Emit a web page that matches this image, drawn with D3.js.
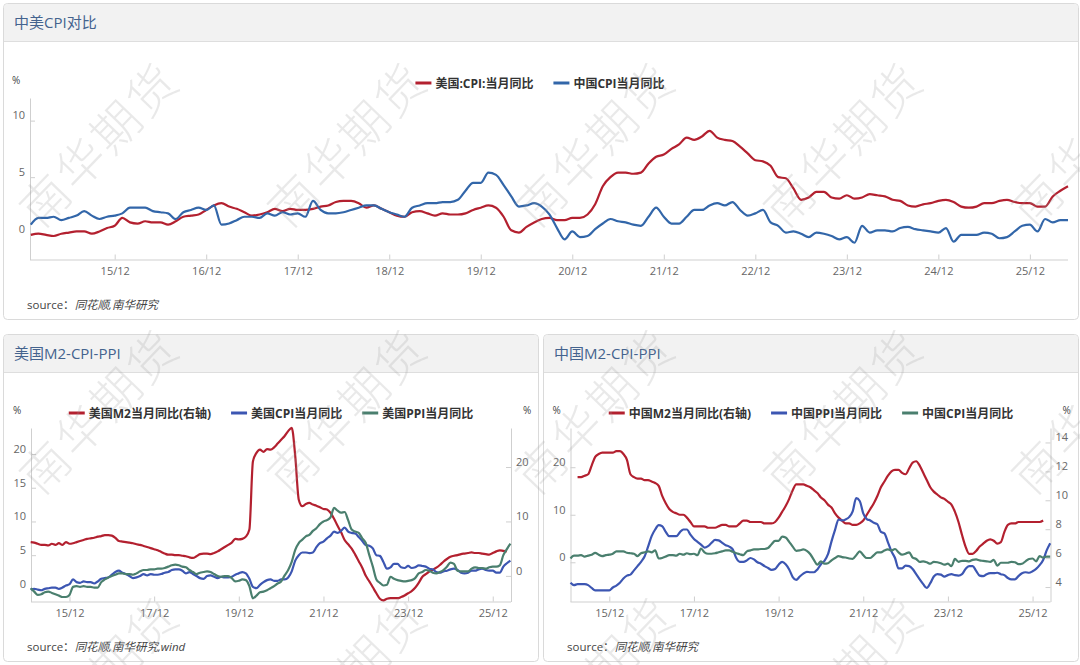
<!DOCTYPE html>
<html>
<head>
<meta charset="utf-8">
<script src="https://cdn.jsdelivr.net/npm/d3@7"></script>
<style>
  body { margin: 0; background: #fff; }
  svg { font-family: "Open Sans", "Noto Sans CJK SC", sans-serif; }
</style>
</head>
<body>
<svg id="chart" width="1080" height="665"></svg>
<script>
// monthly data, Jan 2015 .. May 2026 (137 months)
var startYear = 2015;
var monthCount = 137;

var topTicks = ["15/12", "16/12", "17/12", "18/12", "19/12", "20/12", "21/12", "22/12", "23/12", "24/12", "25/12"];
var bottomTicks = ["15/12", "17/12", "19/12", "21/12", "23/12", "25/12"];

var usCpi = [
  -0.1, 0.0, -0.1, -0.2, 0.0, 0.1, 0.2, 0.2, 0.0, 0.2, 0.5, 0.7,
  1.4, 1.0, 0.9, 1.1, 1.0, 1.0, 0.8, 1.1, 1.5, 1.6, 1.7, 2.1,
  2.5, 2.7, 2.4, 2.2, 1.9, 1.6, 1.7, 1.9, 2.2, 2.0, 2.2, 2.1,
  2.1, 2.2, 2.4, 2.5, 2.8, 2.9, 2.9, 2.7, 2.3, 2.5, 2.2, 1.9,
  1.6, 1.5, 1.9, 2.0, 1.8, 1.6, 1.8, 1.7, 1.7, 1.8, 2.1, 2.3,
  2.5, 2.3, 1.5, 0.3, 0.1, 0.6, 1.0, 1.3, 1.4, 1.2, 1.2, 1.4,
  1.4, 1.7, 2.6, 4.2, 5.0, 5.4, 5.4, 5.3, 5.4, 6.2, 6.8, 7.0,
  7.5, 7.9, 8.5, 8.3, 8.6, 9.1, 8.5, 8.3, 8.2, 7.7, 7.1, 6.5,
  6.4, 6.0, 5.0, 4.9, 4.0, 3.0, 3.2, 3.7, 3.7, 3.2, 3.1, 3.4,
  3.1, 3.2, 3.5, 3.4, 3.3, 3.0, 2.9, 2.5, 2.4, 2.6, 2.7, 2.9,
  3.0, 2.8, 2.4, 2.3, 2.4, 2.7, 2.7, 2.9, 3.0, 2.8, 2.7, 2.7,
  2.4, 2.4, 3.3, 3.8, 4.2
];

var cnCpi = [
  0.8, 1.4, 1.4, 1.5, 1.2, 1.4, 1.6, 2.0, 1.6, 1.3, 1.5, 1.6,
  1.8, 2.3, 2.3, 2.3, 2.0, 1.9, 1.8, 1.3, 1.9, 2.1, 2.3, 2.1,
  2.5, 0.8, 0.9, 1.2, 1.5, 1.5, 1.4, 1.8, 1.6, 1.9, 1.7, 1.8,
  1.5, 2.9, 2.1, 1.8, 1.8, 1.9, 2.1, 2.3, 2.5, 2.5, 2.2, 1.9,
  1.7, 1.5, 2.3, 2.5, 2.7, 2.7, 2.8, 2.8, 3.0, 3.8, 4.5, 4.5,
  5.4, 5.2, 4.3, 3.3, 2.4, 2.5, 2.7, 2.4, 1.7, 0.5, -0.5, 0.2,
  -0.3, -0.2, 0.4, 0.9, 1.3, 1.1, 1.0, 0.8, 0.7, 1.5, 2.3, 1.5,
  0.9, 0.9, 1.5, 2.1, 2.1, 2.5, 2.7, 2.5, 2.8, 2.1, 1.6, 1.8,
  2.1, 1.0, 0.7, 0.1, 0.2, 0.0, -0.3, 0.1, 0.0, -0.2, -0.5, -0.3,
  -0.8, 0.7, 0.1, 0.3, 0.3, 0.2, 0.5, 0.6, 0.4, 0.3, 0.2, 0.1,
  0.5, -0.7, -0.1, -0.1, -0.1, 0.1, 0.0, -0.4, -0.3, 0.2, 0.7, 0.8,
  0.2, 1.3, 1.0, 1.2, 1.2
];

var usM2 = [
  6.2, 6.1, 5.9, 5.7, 5.7, 5.6, 5.9, 5.7, 6.0, 5.7, 6.2, 5.9,
  6.0, 6.2, 6.4, 6.6, 6.8, 6.9, 7.0, 7.2, 7.3, 7.5, 7.5, 7.4,
  7.0, 6.4, 6.3, 6.2, 6.1, 6.0, 5.8, 5.7, 5.5, 5.3, 5.1, 4.9,
  4.7, 4.4, 4.1, 3.9, 3.9, 3.8, 3.8, 3.7, 3.6, 3.4, 3.3, 3.6,
  4.0, 4.1, 4.1, 4.0, 4.2, 4.5, 4.9, 5.3, 5.7, 6.1, 6.8, 6.7,
  6.8, 7.2, 8.5, 21.0, 22.6, 23.2, 22.8, 23.3, 23.2, 23.6, 24.3, 25.0,
  25.7, 26.6, 27.2, 22.0, 14.0, 12.8, 13.2, 13.4, 13.1, 12.9, 12.6, 12.3,
  12.2, 11.6, 10.5, 9.2, 8.0, 6.6, 5.8, 5.0, 3.9, 2.7, 1.5, 0.0,
  -1.0, -2.1, -3.2, -4.2, -4.5, -4.2, -4.1, -4.1, -4.1, -3.9, -3.6, -3.2,
  -2.8, -2.2, -1.3, -0.2, 0.3, 0.8, 1.1, 1.5, 2.0, 2.6, 3.1, 3.5,
  3.7, 3.8, 4.0, 4.1, 4.2, 4.3, 4.2, 4.2, 4.1, 4.0, 3.9, 4.2,
  4.5, 4.7, 4.6, 4.5, null
];

var usPpi = [
  0.1, -0.4, -0.9, -0.8, -0.5, -0.4, -0.6, -0.8, -1.0, -1.2, -1.2, -0.9,
  0.3, 0.4, 0.3, 0.4, 0.3, 0.3, 0.2, 0.2, 1.0, 1.4, 1.7, 1.9,
  2.1, 2.3, 2.3, 2.2, 2.2, 2.1, 2.3, 2.6, 2.8, 2.8, 2.9, 2.9,
  3.0, 3.0, 3.1, 3.3, 3.5, 3.6, 3.5, 3.3, 3.2, 2.8, 2.5, 2.2,
  2.4, 2.5, 2.6, 2.5, 2.2, 1.9, 1.8, 1.9, 1.9, 1.6, 1.1, 1.2,
  1.4, 1.3, 0.4, -1.4, -1.0, -0.5, -0.4, -0.2, 0.1, 0.4, 0.8, 1.1,
  2.0, 2.8, 4.0, 5.8, 6.8, 7.3, 7.8, 8.0, 8.6, 9.0, 9.6, 10.0,
  10.2, 10.6, 12.0, 11.6, 11.3, 11.4, 10.2, 8.8, 8.5, 8.3, 7.5, 6.8,
  5.0, 3.3, 1.4, 0.9, 0.5, 0.6, 1.8, 1.5, 1.3, 1.2, 1.1, 1.2,
  1.3, 1.6, 2.3, 2.5, 2.8, 2.7, 2.4, 2.3, 2.5, 2.8, 3.3, 3.9,
  3.7, 2.7, 2.6, 2.6, 2.6, 3.0, 3.2, 3.1, 3.1, 3.0, 3.2, 3.3,
  3.3, 3.5, 5.0, 5.9, 6.7
];

var cnPpi = [
  -4.3, -4.8, -4.6, -4.6, -4.6, -4.8, -5.4, -5.9, -5.9, -5.9, -5.9, -5.9,
  -5.3, -4.9, -4.3, -3.4, -2.8, -2.6, -1.7, -0.8, 0.1, 1.2, 3.3, 5.5,
  6.9, 7.8, 7.6, 6.4, 5.5, 5.5, 5.5, 6.3, 6.9, 6.9, 5.8, 4.9,
  4.3, 3.7, 3.1, 3.4, 4.1, 4.7, 4.6, 4.1, 3.6, 3.3, 2.7, 0.9,
  0.1, 0.1, 0.4, 0.9, 0.6, 0.0, -0.3, -0.8, -1.2, -1.6, -1.4, -0.5,
  0.1, -0.4, -1.5, -3.1, -3.7, -3.0, -2.4, -2.0, -2.1, -2.1, -1.5, -0.4,
  0.3, 1.7, 4.4, 6.8, 9.0, 8.8, 9.0, 9.5, 10.7, 13.5, 12.9, 10.3,
  9.1, 8.8, 8.3, 8.0, 6.4, 6.1, 4.2, 2.3, 0.9, -1.3, -1.3, -0.7,
  -0.8, -1.4, -2.5, -3.6, -4.6, -5.4, -4.4, -3.0, -2.5, -2.6, -3.0, -2.7,
  -2.5, -2.7, -2.8, -2.5, -1.4, -0.8, -0.8, -1.8, -2.8, -2.9, -2.5, -2.3,
  -2.3, -2.2, -2.5, -2.7, -3.3, -3.6, -3.6, -2.9, -2.3, -2.1, -2.2, -1.9,
  -1.4, -0.6, 0.5, 2.5, 4.0
];

var cnM2 = [
  null, null, 11.6, 11.6, 11.7, 11.8, 12.4, 13.0, 13.2, 13.3, 13.3, 13.3,
  13.3, 13.4, 13.4, 13.2, 12.8, 11.8, 11.6, 11.5, 11.5, 11.4, 11.4, 11.3,
  11.2, 11.0, 10.3, 9.8, 9.4, 9.2, 9.1, 9.0, 9.0, 8.8, 8.5, 8.2,
  8.2, 8.2, 8.2, 8.1, 8.1, 8.1, 8.2, 8.3, 8.3, 8.2, 8.2, 8.2,
  8.4, 8.6, 8.6, 8.5, 8.5, 8.5, 8.5, 8.4, 8.4, 8.4, 8.5, 8.8,
  9.2, 9.6, 10.1, 10.7, 11.1, 11.1, 11.1, 11.0, 10.9, 10.7, 10.5, 10.2,
  10.0, 9.7, 9.5, 9.1, 8.8, 8.6, 8.4, 8.4, 8.3, 8.3, 8.4, 8.6,
  9.0, 9.4, 9.8, 10.3, 10.9, 11.3, 11.7, 12.0, 12.1, 12.1, 11.9, 11.8,
  12.2, 12.6, 12.7, 12.4, 11.9, 11.4, 10.9, 10.6, 10.4, 10.2, 10.1, 9.9,
  9.7, 9.2, 8.5, 7.6, 6.8, 6.3, 6.3, 6.5, 6.8, 7.0, 7.2, 7.3,
  7.2, 7.0, 7.1, 7.8, 8.3, 8.4, 8.4, 8.5, 8.5, 8.5, 8.5, 8.5,
  8.5, 8.5, 8.6, null, null
];

var RED = "#b3202f", BLUE_TOP = "#3266a9", BLUE = "#3c56b2", GREEN = "#4a7f6e";

var svg = d3.select("#chart");

// index of the December of each tick label ("15/12" -> Dec 2015)
function tickIndex(lbl) {
  var yy = +lbl.split("/")[0] + 2000, mm = +lbl.split("/")[1];
  return (yy - startYear) * 12 + mm - 1;
}

function card(x, y, w, h, title) {
  var g = svg.append("g");
  g.append("rect").attr("x", x + 0.5).attr("y", y + 0.5).attr("width", w).attr("height", h)
    .attr("rx", 4).attr("fill", "#fff").attr("stroke", "#dadada");
  g.append("path")
    .attr("d", "M" + (x + 1) + "," + (y + 38) + "V" + (y + 5) + "Q" + (x + 1) + "," + (y + 1) + " " + (x + 5) + "," + (y + 1) +
      "H" + (x + w - 4) + "Q" + (x + w) + "," + (y + 1) + " " + (x + w) + "," + (y + 5) + "V" + (y + 38) + "Z")
    .attr("fill", "#f2f2f2");
  g.append("line").attr("x1", x + 1).attr("x2", x + w).attr("y1", y + 38.5).attr("y2", y + 38.5)
    .attr("stroke", "#dedede");
  g.append("text").attr("x", x + 11).attr("y", y + 25).attr("font-size", 15)
    .attr("fill", "#44638e").text(title);
}

function source(x, y, rest) {
  var t = svg.append("text").attr("x", x).attr("y", y).attr("font-size", 11.5).attr("fill", "#444");
  t.append("tspan").text("source：");
  t.append("tspan").attr("font-style", "italic").text(rest);
}

function legend(cx, y, items) {
  var g = svg.append("g");
  var x = 0;
  items.forEach(function (it, i) {
    g.append("line").attr("x1", x).attr("x2", x + 16).attr("y1", y).attr("y2", y)
      .attr("stroke", it.color).attr("stroke-width", 3);
    var t = g.append("text").attr("x", x + 20).attr("y", y + 4.5).attr("font-size", 12)
      .attr("font-weight", "bold").attr("fill", "#333").text(it.name);
    x += 20 + t.node().getComputedTextLength() + 20;
  });
  x -= 20;
  g.attr("transform", "translate(" + (cx - x / 2) + ",0)");
}

function styleAxis(g) {
  g.select(".domain").attr("stroke", "#cfcfcf");
  g.selectAll(".tick line").attr("stroke", "#cfcfcf");
  g.selectAll(".tick text").attr("fill", "#666").attr("font-size", 11)
    .attr("font-family", "\"Open Sans\", sans-serif");
}

function plot(cfg) {
  var x = d3.scaleLinear().domain([0, monthCount - 1]).range(cfg.xRange);
  var yL = d3.scaleLinear().domain(cfg.leftDomain).range([cfg.bottom, cfg.top]);
  var yR = cfg.rightDomain ? d3.scaleLinear().domain(cfg.rightDomain).range([cfg.bottom, cfg.top]) : null;

  var gx = svg.append("g").attr("transform", "translate(0," + cfg.bottom + ")")
    .call(d3.axisBottom(x).tickValues(cfg.xTicks.map(tickIndex))
      .tickFormat(function (d, i) { return cfg.xTicks[i]; })
      .tickSize(-5).tickSizeOuter(0).tickPadding(8));
  styleAxis(gx);
  gx.select(".domain").attr("d", "M" + cfg.axisLeft + ",0.5H" + cfg.axisRight);

  var gl = svg.append("g").attr("transform", "translate(" + cfg.axisLeft + ",0)")
    .call(d3.axisLeft(yL).tickValues(cfg.leftTicks).tickSize(-5).tickSizeOuter(0).tickPadding(5));
  styleAxis(gl);
  gl.selectAll(".tick text").attr("dy", "-0.15em");

  if (yR) {
    var gr = svg.append("g").attr("transform", "translate(" + cfg.axisRight + ",0)")
      .call(d3.axisRight(yR).tickValues(cfg.rightTicks).tickSize(-5).tickSizeOuter(0).tickPadding(5));
    styleAxis(gr);
    gr.selectAll(".tick text").attr("dy", "-0.15em");
  }

  svg.append("text").attr("x", cfg.axisLeft - 18).attr("y", cfg.top - 14)
    .attr("font-size", 10).attr("fill", "#444").text("%");
  if (yR) {
    svg.append("text").attr("x", cfg.axisRight + 12).attr("y", cfg.top - 14)
      .attr("font-size", 10).attr("fill", "#444").text("%");
  }

  cfg.series.forEach(function (s) {
    var y = s.axis === "right" ? yR : yL;
    var line = d3.line()
      .defined(function (d) { return d != null; })
      .x(function (d, i) { return x(i); })
      .y(function (d) { return y(d); })
      .curve(d3.curveMonotoneX);
    svg.append("path").datum(s.values)
      .attr("d", line)
      .attr("fill", "none")
      .attr("stroke", s.color)
      .attr("stroke-width", 2.2)
      .attr("stroke-linejoin", "round");
  });

  legend(cfg.legendX, cfg.legendY, cfg.series);
}

// cards
card(3, 3, 1075, 316, "中美CPI对比");
card(3, 334, 535, 327, "美国M2-CPI-PPI");
card(543, 334, 535, 327, "中国M2-CPI-PPI");

plot({
  xRange: [30.8, 1068], axisLeft: 30, axisRight: 1068,
  top: 98, bottom: 259.5,
  leftDomain: [-2.28, 12.0], leftTicks: [0, 5, 10],
  xTicks: topTicks, legendX: 540, legendY: 83,
  series: [
    { name: "美国:CPI:当月同比", values: usCpi, color: RED },
    { name: "中国CPI当月同比", values: cnCpi, color: BLUE_TOP }
  ]
});

plot({
  xRange: [30.7, 510.4], axisLeft: 31, axisRight: 511,
  top: 428, bottom: 601.5,
  leftDomain: [-1.87, 23.86], leftTicks: [0, 5, 10, 15, 20],
  rightDomain: [-4.71, 27.17], rightTicks: [0, 10, 20],
  xTicks: bottomTicks, legendX: 271, legendY: 413,
  series: [
    { name: "美国M2当月同比(右轴)", values: usM2, color: RED, axis: "right" },
    { name: "美国CPI当月同比", values: usCpi, color: BLUE },
    { name: "美国PPI当月同比", values: usPpi, color: GREEN }
  ]
});

plot({
  xRange: [570.5, 1050.2], axisLeft: 570.5, axisRight: 1050.5,
  top: 428, bottom: 601.5,
  leftDomain: [-8.25, 28.25], leftTicks: [0, 10, 20],
  rightDomain: [3.0, 15.0], rightTicks: [4, 6, 8, 10, 12, 14],
  xTicks: bottomTicks, legendX: 811, legendY: 413,
  series: [
    { name: "中国M2当月同比(右轴)", values: cnM2, color: RED, axis: "right" },
    { name: "中国PPI当月同比", values: cnPpi, color: BLUE },
    { name: "中国CPI当月同比", values: cnCpi, color: GREEN }
  ]
});

source(27, 309, "同花顺,南华研究");
source(27, 651, "同花顺,南华研究,wind");
source(567, 651, "同花顺,南华研究");

// watermark, tiled like the original (partly outside the page at the edges)
var wmX = [100, 348, 596, 844, 1092];
var wmY = [145, 412, 680];
var wm = svg.append("g").attr("pointer-events", "none");
wmY.forEach(function (cy) {
  wmX.forEach(function (cx) {
    wm.append("text")
      .attr("transform", "translate(" + cx + "," + cy + ") rotate(-46)")
      .attr("text-anchor", "middle").attr("dy", "0.35em")
      .attr("font-family", "\"Noto Sans CJK SC\", sans-serif")
      .attr("font-size", 48).attr("font-weight", 200).attr("letter-spacing", 3)
      .attr("fill", "#999").attr("fill-opacity", 0.22)
      .text("南华期货");
  });
});
</script>
</body>
</html>
